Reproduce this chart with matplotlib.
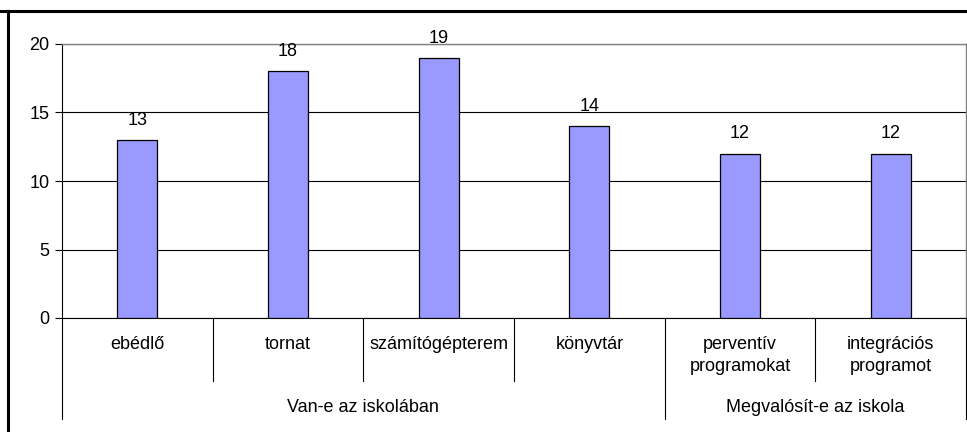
import matplotlib
matplotlib.use("Agg")
import matplotlib.pyplot as plt
from matplotlib.lines import Line2D

plt.rcParams['font.family'] = ['Liberation Sans', 'DejaVu Sans']

categories = ["ebédlő", "tornat", "számítógépterem", "könyvtár",
              "perventív\nprogramokat", "integrációs\nprogramot"]
values = [13, 18, 19, 14, 12, 12]
groups = ["Van-e az iskolában", "Megvalósít-e az iskola"]
group_sizes = [4, 2]
yticks = [0, 5, 10, 15, 20]

FS = 13
W, H = 967, 432
fig = plt.figure(figsize=(W / 100, H / 100), dpi=100)
x0, x1, ytop, ybot = 62, 966, 44, 318
ax = fig.add_axes([x0 / W, 1 - ybot / H, (x1 - x0) / W, (ybot - ytop) / H])

xs = list(range(len(categories)))
ax.bar(xs, values, width=0.265, color="#9999FF", edgecolor="black", linewidth=0.9, zorder=3)
for x, v in zip(xs, values):
    ax.annotate(str(v), (x, v), xytext=(0, 8), textcoords="offset points",
                ha="center", va="bottom", fontsize=FS)

ax.set_xlim(-0.5, len(categories) - 0.5)
ax.set_ylim(0, 20)
ax.set_yticks(yticks)
ax.set_yticklabels([str(t) for t in yticks], fontsize=FS)
ax.yaxis.grid(True, color="black", linewidth=0.8, zorder=0)
ax.set_axisbelow(True)
ax.set_xticks([])
ax.tick_params(axis="y", direction="out", length=5, width=0.8, pad=4)
for s in ["top", "right"]:
    ax.spines[s].set_color("#808080")
    ax.spines[s].set_linewidth(1.0)
ax.spines["left"].set_color("black")
ax.spines["left"].set_linewidth(0.8)
ax.spines["bottom"].set_color("black")
ax.spines["bottom"].set_linewidth(0.8)

tr = ax.get_xaxis_transform()
ah = ybot - ytop
short = -(381 - ybot) / ah
long_ = -(419 - ybot) / ah
boundaries = [i - 0.5 for i in range(len(categories) + 1)]
group_edges = [-0.5]
acc = -0.5
for g in group_sizes:
    acc += g
    group_edges.append(acc)
for b in boundaries:
    yend = long_ if b in group_edges else short
    ax.plot([b, b], [0, yend], transform=tr, color="black", linewidth=0.8, clip_on=False)

for x, c in zip(xs, categories):
    ax.text(x, -(336 - ybot) / ah, c, transform=tr, ha="center", va="top",
            fontsize=FS, linespacing=1.4)

start = 0
for g, n in zip(groups, group_sizes):
    center = start + (n - 1) / 2
    ax.text(center, -(408 - ybot) / ah, g, transform=tr, ha="center", va="center", fontsize=FS)
    start += n

fig.add_artist(Line2D([0, 1], [1 - 11 / H, 1 - 11 / H], transform=fig.transFigure,
                      color="black", linewidth=2.2))
fig.add_artist(Line2D([8 / W, 8 / W], [0, 1 - 11 / H], transform=fig.transFigure,
                      color="black", linewidth=2.2))

fig.savefig("out.png", dpi=100)
